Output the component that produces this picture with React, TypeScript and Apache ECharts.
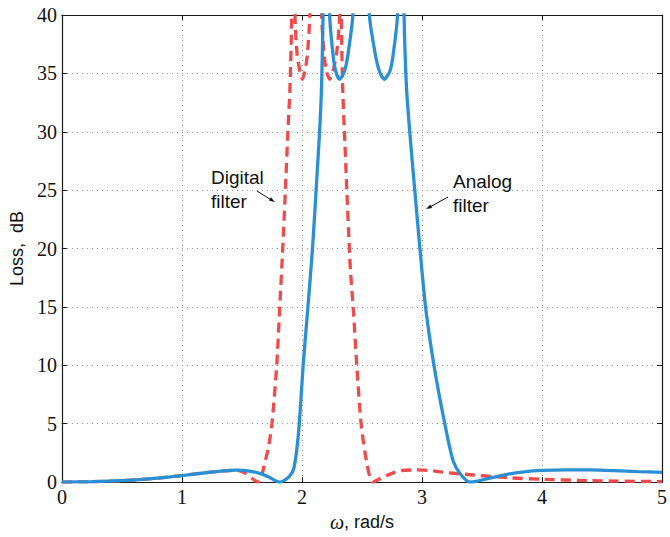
import React, { useEffect, useRef } from "react";
import * as echarts from "echarts";

// Analog filter (solid blue): frequency (rad/s) and loss (dB)
const analogOmega = [
  0, 0.25, 0.5, 0.75, 1.0, 1.2, 1.35, 1.45, 1.55, 1.65, 1.72, 1.78, 1.82, 1.86, 1.9, 1.93, 1.955,
  1.978, 2.01, 2.05, 2.088, 2.118, 2.147, 2.163, 2.176, 2.2, 2.231, 2.259, 2.281, 2.314, 2.355,
  2.383, 2.424, 2.49, 2.562, 2.612, 2.645, 2.686, 2.733, 2.76, 2.796, 2.823, 2.851, 2.871, 2.9,
  2.94, 2.983, 3.03, 3.1, 3.19, 3.26, 3.32, 3.4, 3.46, 3.55, 3.7, 3.85, 4.0, 4.2, 4.41, 4.6, 4.8, 5.0,
];
const analogLoss = [
  0, 0.03, 0.12, 0.3, 0.56, 0.8, 0.97, 1.03, 0.97, 0.75, 0.45, 0.12, 0, 0.2, 0.55, 1.1, 2.6,
  5, 10, 15, 20, 25, 30, 33.7, 40, 60, 40, 36.6, 35.2, 34.5, 35.2,
  36.6, 40, 60, 40, 36.6, 35.2, 34.5, 35.2, 36.6, 40, 60, 40, 33.8, 29.8,
  25, 20, 15, 10, 5, 1.8, 0.7, 0, 0.08, 0.3, 0.65, 0.88, 1.0, 1.05, 1.04, 0.98, 0.9, 0.83,
];

// Digital filter (dashed red)
const digitalOmega = [
  0, 0.25, 0.5, 0.75, 1.0, 1.2, 1.35, 1.46, 1.53, 1.58, 1.635, 1.66, 1.694, 1.72, 1.75, 1.79,
  1.815, 1.84, 1.862, 1.883, 1.9, 1.915, 1.928, 1.942, 1.96, 1.983, 2.003, 2.025, 2.045, 2.066,
  2.115, 2.163, 2.185, 2.204, 2.231, 2.259, 2.29, 2.314, 2.321, 2.328, 2.34, 2.354, 2.374, 2.395,
  2.405, 2.43, 2.457, 2.493, 2.543, 2.59, 2.67, 2.81, 2.95, 3.05, 3.22, 3.44, 3.72, 3.99, 4.41, 5.0,
];
const digitalLoss = [
  0, 0.03, 0.12, 0.3, 0.56, 0.82, 0.97, 1.0, 0.75, 0.35, 0, 0.4, 1.8, 2.9, 5, 10,
  15, 20, 25, 30, 33.7, 40, 60, 40, 36.6, 35.2, 34.5, 35.2, 36.6, 40,
  60, 40, 36.6, 35.2, 34.5, 35.2, 36.8, 40, 60, 40, 33.5, 30, 25, 20,
  18, 14.5, 10, 5, 1.5, 0, 0.4, 0.95, 1.04, 1.0, 0.8, 0.6, 0.37, 0.25, 0.12, 0.04,
];

const xTicks = [0, 1, 2, 3, 4, 5];
const yTicks = [0, 5, 10, 15, 20, 25, 30, 35, 40];

const annotations = [
  { lines: ["Digital", "filter"] },
  { lines: ["Analog", "filter"] },
];

const BLUE = "#2b8fd3";
const RED = "#ef4a4c";
const AXIS = "#1a1a1a";
const SERIF = "Liberation Serif, serif";
const SANS = "Liberation Sans, sans-serif";

export default function App() {
  const ref = useRef<HTMLDivElement>(null);

  useEffect(() => {
    if (!ref.current) return;
    const chart = echarts.init(ref.current, null, { renderer: "svg" });

    const zip = (xs: number[], ys: number[]) => xs.map((x, i) => [x, ys[i]]);

    const tickStyle = { show: true, inside: true, length: 5, lineStyle: { color: AXIS, width: 1 } };
    const lineStyleAxis = { show: true, onZero: false, lineStyle: { color: AXIS, width: 1.2 } };
    const split = { show: true, lineStyle: { color: "#8a8a8a", width: 1, type: [1, 4] as any } };

    const option: any = {
      animation: false,
      grid: { left: 60, right: 5, top: 15, bottom: 45, containLabel: false },
      xAxis: [
        {
          type: "value",
          min: 0,
          max: 5,
          interval: 1,
          position: "bottom",
          axisLine: lineStyleAxis,
          axisTick: tickStyle,
          splitLine: split,
          axisLabel: {
            fontFamily: SERIF,
            fontSize: 20,
            color: "#111",
            margin: 5,
            formatter: (v: number) => (xTicks.includes(v) ? String(v) : ""),
          },
          name: "{w|ω}, rad/s",
          nameLocation: "middle",
          nameGap: 25,
          nameTextStyle: {
            fontFamily: SANS,
            fontSize: 18,
            color: "#111",
            rich: { w: { fontFamily: SERIF, fontStyle: "italic", fontSize: 20, color: "#111" } },
          },
        },
        {
          type: "value",
          min: 0,
          max: 5,
          interval: 1,
          position: "top",
          axisLine: lineStyleAxis,
          axisTick: tickStyle,
          splitLine: { show: false },
          axisLabel: { show: false },
        },
      ],
      yAxis: [
        {
          type: "value",
          min: 0,
          max: 40,
          interval: 5,
          position: "left",
          axisLine: lineStyleAxis,
          axisTick: tickStyle,
          splitLine: split,
          axisLabel: {
            fontFamily: SERIF,
            fontSize: 20,
            color: "#111",
            margin: 5,
            formatter: (v: number) => (yTicks.includes(v) ? String(v) : ""),
          },
          name: "Loss,  dB",
          nameLocation: "middle",
          nameGap: 35,
          nameTextStyle: { fontFamily: SANS, fontSize: 18, color: "#111" },
        },
        {
          type: "value",
          min: 0,
          max: 40,
          interval: 5,
          position: "right",
          axisLine: lineStyleAxis,
          axisTick: tickStyle,
          splitLine: { show: false },
          axisLabel: { show: false },
        },
      ],
      series: [
        {
          name: "Digital filter",
          type: "line",
          data: zip(digitalOmega, digitalLoss),
          showSymbol: false,
          smooth: 0.25,
          clip: true,
          lineStyle: { color: RED, width: 3.3, type: [10, 6] },
          z: 3,
        },
        {
          name: "Analog filter",
          type: "line",
          data: zip(analogOmega, analogLoss),
          showSymbol: false,
          smooth: 0.25,
          clip: true,
          lineStyle: { color: BLUE, width: 3.3 },
          z: 4,
        },
      ],
      graphic: [
        {
          type: "text",
          left: 211,
          top: 165,
          style: {
            text: annotations[0].lines.join("\n"),
            fontFamily: SANS,
            fontSize: 19,
            lineHeight: 24,
            fill: "#111",
          },
        },
        {
          type: "text",
          left: 453,
          top: 169,
          style: {
            text: annotations[1].lines.join("\n"),
            fontFamily: SANS,
            fontSize: 19,
            lineHeight: 24,
            fill: "#111",
          },
        },
        {
          type: "line",
          shape: { x1: 257, y1: 191, x2: 273, y2: 201 },
          style: { stroke: "#111", lineWidth: 1 },
        },
        {
          type: "polygon",
          shape: { points: [[275, 202], [268.8, 200.6], [270.9, 197.2]] },
          style: { fill: "#111" },
        },
        {
          type: "line",
          shape: { x1: 448, y1: 197, x2: 428, y2: 208 },
          style: { stroke: "#111", lineWidth: 1 },
        },
        {
          type: "polygon",
          shape: { points: [[426, 209], [430.3, 204.4], [432.2, 207.9]] },
          style: { fill: "#111" },
        },
      ],
    };

    chart.setOption(option);
    return () => chart.dispose();
  }, []);

  return (
    <div
      ref={ref}
      style={{ position: "absolute", left: 0, top: 0, width: 670, height: 537, background: "#fff" }}
    />
  );
}
